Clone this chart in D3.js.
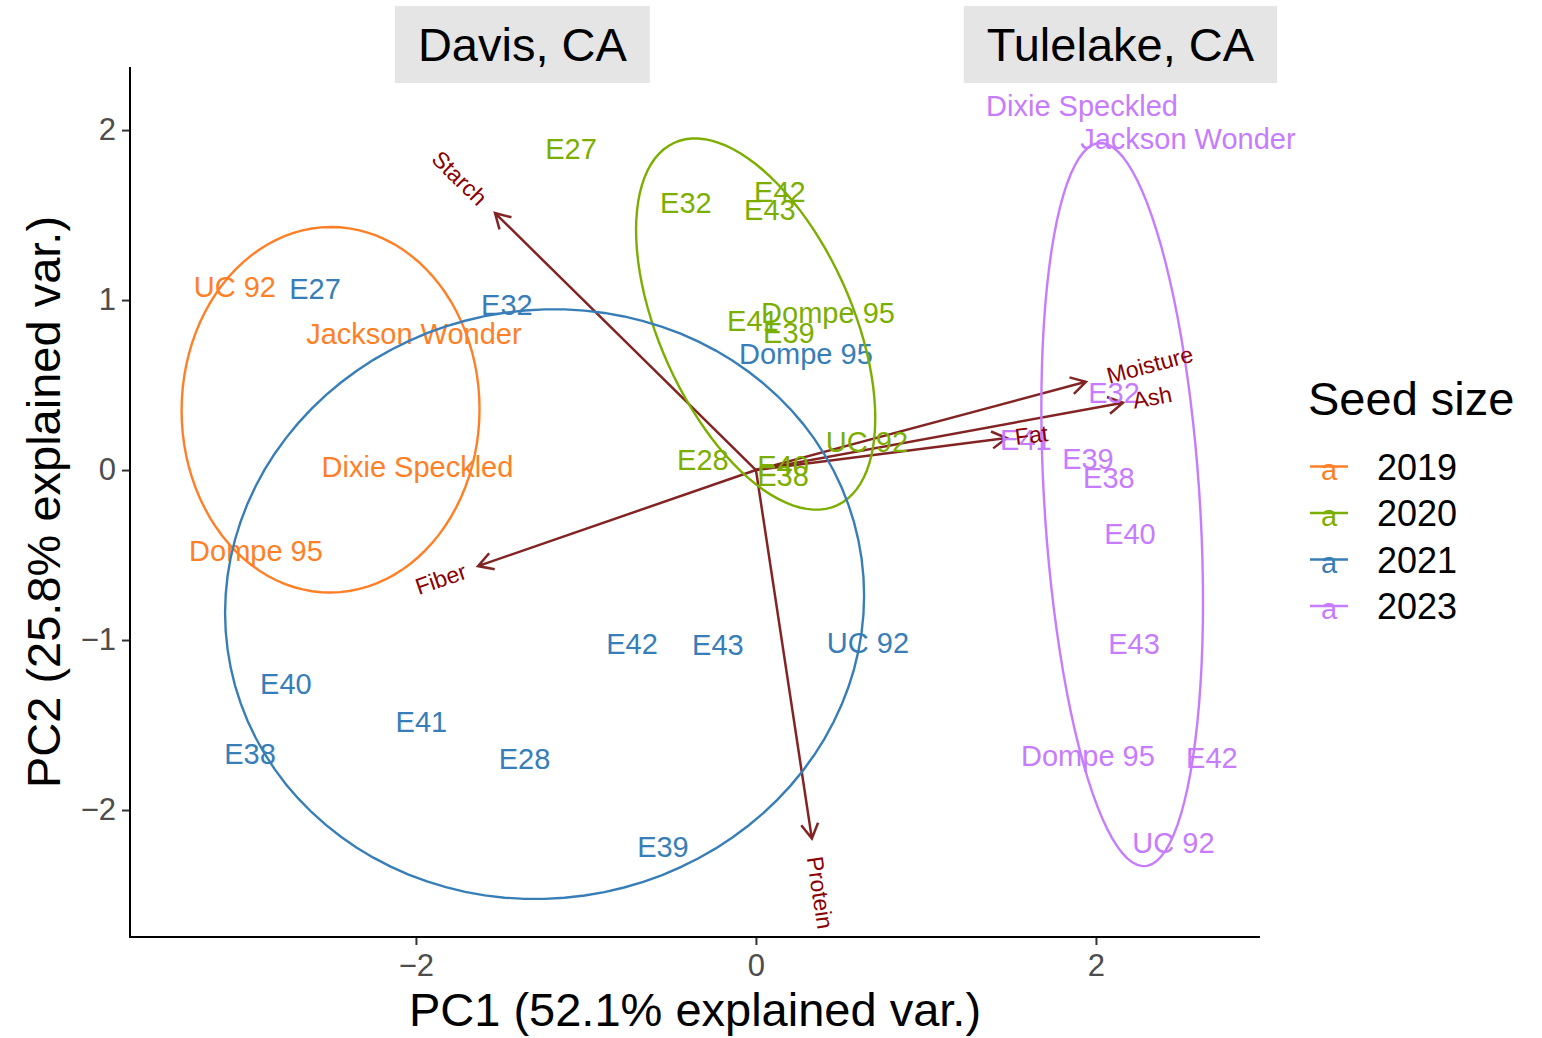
<!DOCTYPE html>
<html lang="en">

<head>
    <meta charset="utf-8">
    <script src="https://d3js.org/d3.v7.min.js"></script>
    <style>
        body { margin: 0; background: #fff; }
        text { font-family: "Liberation Sans", Arial, Helvetica, sans-serif; }
    </style>
</head>

<body>
    <div class="chart"></div>

    <script>
        // PCA scores: [genotype, PC1, PC2], one array per year
        const scores2019 = [
            ["UC 92", -3.065, 1.076],
            ["Jackson Wonder", -2.012, 0.800],
            ["Dixie Speckled", -1.991, 0.018],
            ["Dompe 95", -2.941, -0.476]
        ];
        const scores2020 = [
            ["E27", -1.088, 1.888],
            ["E32", -0.412, 1.571],
            ["E42", 0.141, 1.635],
            ["E43", 0.082, 1.529],
            ["E41", -0.018, 0.876],
            ["Dompe 95", 0.424, 0.924],
            ["E39", 0.194, 0.806],
            ["UC 92", 0.653, 0.165],
            ["E28", -0.312, 0.059],
            ["E40", 0.159, 0.026],
            ["E38", 0.159, -0.032]
        ];
        const scores2021 = [
            ["E27", -2.594, 1.065],
            ["E32", -1.465, 0.971],
            ["Dompe 95", 0.294, 0.682],
            ["E42", -0.729, -1.021],
            ["E43", -0.224, -1.029],
            ["UC 92", 0.659, -1.018],
            ["E40", -2.765, -1.259],
            ["E41", -1.968, -1.482],
            ["E38", -2.976, -1.668],
            ["E28", -1.361, -1.700],
            ["E39", -0.547, -2.218]
        ];
        const scores2023 = [
            ["Dixie Speckled", 1.918, 2.141],
            ["Jackson Wonder", 2.541, 1.947],
            ["E32", 2.106, 0.453],
            ["E41", 1.588, 0.176],
            ["E39", 1.953, 0.065],
            ["E38", 2.076, -0.047],
            ["E40", 2.200, -0.376],
            ["E43", 2.224, -1.021],
            ["Dompe 95", 1.953, -1.682],
            ["E42", 2.682, -1.694],
            ["UC 92", 2.456, -2.194]
        ];

        const years = ["2019", "2020", "2021", "2023"];
        const yearScores = [scores2019, scores2020, scores2021, scores2023];
        const yearColors = ["#FF7F27", "#7CAE00", "#377EB8", "#C77CFF"];

        // variable loadings (arrow ends)
        const variables = ["Starch", "Moisture", "Ash", "Fat", "Fiber", "Protein"];
        const loadPC1 = [-1.535, 1.941, 2.159, 1.475, -1.635, 0.329];
        const loadPC2 = [1.512, 0.519, 0.396, 0.188, -0.565, -2.168];

        // site annotations
        const sites = ["Davis, CA", "Tulelake, CA"];
        const sitePC1 = [-1.374, 2.144];
        const sitePC2 = [2.503, 2.503];

        const xTicks = [-2, 0, 2];
        const yTicks = [-2, -1, 0, 1, 2];

        const width = 1542;
        const height = 1038;
        // panel edges in pixels
        const pLeft = 130, pRight = 1260, pTop = 67, pBottom = 937;

        const x = d3.scaleLinear().domain([-3.682, 2.965]).range([pLeft, pRight]);
        const y = d3.scaleLinear().domain([-2.747, 2.371]).range([pBottom, pTop]);

        const svg = d3.select(".chart").append("svg")
            .attr("width", width)
            .attr("height", height);

        const fmt = d => d < 0 ? "\u2212" + Math.abs(d) : String(d);

        // axes
        const xAxis = svg.append("g")
            .attr("transform", "translate(0," + pBottom + ")")
            .call(d3.axisBottom(x).tickValues(xTicks).tickFormat(fmt).tickSize(8).tickPadding(6));
        const yAxis = svg.append("g")
            .attr("transform", "translate(" + pLeft + ",0)")
            .call(d3.axisLeft(y).tickValues(yTicks).tickFormat(fmt).tickSize(8).tickPadding(6));
        [xAxis, yAxis].forEach(ax => {
            ax.select(".domain").remove();
            ax.selectAll("line").attr("stroke", "#333").attr("stroke-width", 2);
            ax.selectAll("text").attr("font-size", 31).attr("fill", "#4D4D4D")
                .style("font-family", "'Liberation Sans', Arial, sans-serif");
        });
        xAxis.selectAll("text").attr("dy", "0.8em");
        svg.append("path")
            .attr("d", `M${pLeft},${pTop}V${pBottom}H${pRight}`)
            .attr("fill", "none").attr("stroke", "black").attr("stroke-width", 2);

        // axis titles
        svg.append("text")
            .attr("x", (pLeft + pRight) / 2).attr("y", 1026)
            .attr("text-anchor", "middle").attr("font-size", 47)
            .text("PC1 (52.1% explained var.)");
        svg.append("text")
            .attr("transform", `translate(60,${(pTop + pBottom) / 2}) rotate(-90)`)
            .attr("text-anchor", "middle").attr("font-size", 47)
            .text("PC2 (25.8% explained var.)");

        // arrows for loadings
        const arrowCol = "#832424";
        const headLen = 17;
        variables.forEach((v, i) => {
            const x0 = x(0), y0 = y(0), x1 = x(loadPC1[i]), y1 = y(loadPC2[i]);
            const a = Math.atan2(y1 - y0, x1 - x0);
            const h1 = [x1 - headLen * Math.cos(a - Math.PI / 6), y1 - headLen * Math.sin(a - Math.PI / 6)];
            const h2 = [x1 - headLen * Math.cos(a + Math.PI / 6), y1 - headLen * Math.sin(a + Math.PI / 6)];
            svg.append("path")
                .attr("d", `M${x0},${y0}L${x1},${y1}M${h1[0]},${h1[1]}L${x1},${y1}L${h2[0]},${h2[1]}`)
                .attr("fill", "none").attr("stroke", arrowCol).attr("stroke-width", 2.5);
        });

        // genotype labels
        yearScores.forEach((rows, k) => {
            svg.append("g").selectAll("text")
                .data(rows)
                .join("text")
                .attr("x", d => x(d[1]))
                .attr("y", d => y(d[2]))
                .attr("dy", "0.35em")
                .attr("text-anchor", "middle")
                .attr("font-size", 29)
                .attr("fill", yearColors[k])
                .text(d => d[0]);
        });

        // normal-probability ellipses (68%), computed from each year's scores
        const ed = Math.sqrt(-2 * Math.log(1 - 0.68));
        const theta = d3.range(0, 101).map(i => -Math.PI + 2 * Math.PI * i / 100);
        yearScores.forEach((rows, k) => {
            const px = rows.map(d => d[1]), py = rows.map(d => d[2]);
            const mx = d3.mean(px), my = d3.mean(py);
            const n = rows.length;
            const sxx = d3.sum(px, v => (v - mx) ** 2) / (n - 1);
            const syy = d3.sum(py, v => (v - my) ** 2) / (n - 1);
            const sxy = d3.sum(rows, d => (d[1] - mx) * (d[2] - my)) / (n - 1);
            // cholesky of covariance
            const a = Math.sqrt(sxx), b = sxy / a, c = Math.sqrt(syy - b * b);
            const pts = theta.map(t => [mx + ed * a * Math.cos(t), my + ed * (b * Math.cos(t) + c * Math.sin(t))]);
            svg.append("path")
                .datum(pts)
                .attr("fill", "none").attr("stroke", yearColors[k]).attr("stroke-width", 2.4)
                .attr("d", d3.line().x(d => x(d[0])).y(d => y(d[1])));
        });

        // variable names
        variables.forEach((v, i) => {
            const ang = Math.atan(loadPC2[i] / loadPC1[i]) * 180 / Math.PI;
            const pos = loadPC1[i] > 0;
            const t = svg.append("text")
                .attr("font-size", 23)
                .attr("fill", "#8B0000")
                .attr("transform", `translate(${x(loadPC1[i])},${y(loadPC2[i])}) rotate(${-ang})`)
                .attr("dy", "0.35em")
                .text(v);
            const w = t.node().getComputedTextLength();
            t.attr("x", pos ? 0.25 * w : -1.25 * w);
        });

        // site labels
        sites.forEach((s, i) => {
            const g = svg.append("g");
            const rect = g.append("rect").attr("fill", "#E5E5E5");
            const t = g.append("text")
                .attr("x", x(sitePC1[i])).attr("y", y(sitePC2[i]))
                .attr("dy", "0.35em")
                .attr("text-anchor", "middle")
                .attr("font-size", 47)
                .text(s);
            const w = t.node().getComputedTextLength();
            rect.attr("x", x(sitePC1[i]) - w / 2 - 23).attr("width", w + 46)
                .attr("y", y(sitePC2[i]) - 38.5).attr("height", 77);
        });

        // legend
        const legend = svg.append("g");
        legend.append("text").attr("x", 1308).attr("y", 415).attr("font-size", 47).text("Seed size");
        years.forEach((yr, k) => {
            const cy = 466.5 + k * 46.5;
            legend.append("text").attr("x", 1329).attr("y", cy + 13).attr("text-anchor", "middle")
                .attr("font-size", 29).attr("fill", yearColors[k]).text("a");
            legend.append("line").attr("x1", 1310).attr("x2", 1348).attr("y1", cy).attr("y2", cy)
                .attr("stroke", yearColors[k]).attr("stroke-width", 2.4);
            legend.append("text").attr("x", 1377).attr("y", cy + 13).attr("font-size", 36).text(yr);
        });
    </script>
</body>

</html>
